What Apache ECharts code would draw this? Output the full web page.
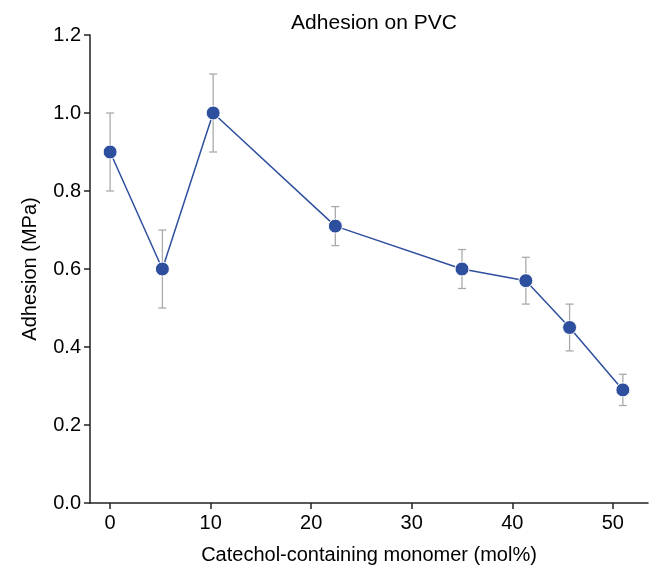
<!DOCTYPE html>
<html>
<head>
<meta charset="utf-8">
<script src="https://cdn.jsdelivr.net/npm/echarts@6/dist/echarts.min.js"></script>
<style>
  html, body { margin: 0; padding: 0; background: #fff; }
  #chart { width: 650px; height: 576px; }
</style>
</head>
<body>
<div id="chart"></div>
<script>
const monomer = [0, 5.2, 10.25, 22.4, 35, 41.35, 45.7, 51];
const adhesion = [0.9, 0.6, 1.0, 0.71, 0.6, 0.57, 0.45, 0.29];
const errLow = [0.8, 0.5, 0.9, 0.66, 0.55, 0.51, 0.39, 0.25];
const errHigh = [1.0, 0.7, 1.1, 0.76, 0.65, 0.63, 0.51, 0.33];
const xTicks = [0, 10, 20, 30, 40, 50];

const font = 'Liberation Sans, Arial, sans-serif';
const blue = '#2E4F9E';

const points = monomer.map((x, i) => [x, adhesion[i]]);
const bars = monomer.map((x, i) => [x, errLow[i], errHigh[i]]);

const chart = echarts.init(document.getElementById('chart'));
chart.setOption({
  animation: false,
  title: {
    text: 'Adhesion on PVC',
    left: 369,
    textAlign: 'center',
    top: 8,
    textStyle: { fontFamily: font, fontSize: 21, fontWeight: 'normal', color: '#000' }
  },
  grid: { left: 90, right: 2, top: 35, bottom: 73 },
  xAxis: {
    type: 'value',
    min: -2,
    max: 53.5,
    name: 'Catechol-containing monomer (mol%)',
    nameLocation: 'middle',
    nameGap: 42,
    nameTextStyle: { fontFamily: font, fontSize: 20, color: '#000' },
    axisLine: { lineStyle: { color: '#222', width: 1.5 } },
    axisTick: { customValues: xTicks, length: 6, lineStyle: { color: '#222', width: 1.5 } },
    axisLabel: { customValues: xTicks, fontFamily: font, fontSize: 20, color: '#000', margin: 10 },
    splitLine: { show: false }
  },
  yAxis: {
    type: 'value',
    min: 0,
    max: 1.2,
    interval: 0.2,
    name: 'Adhesion (MPa)',
    nameLocation: 'middle',
    nameGap: 50,
    nameTextStyle: { fontFamily: font, fontSize: 20, color: '#000' },
    axisLine: { show: true, onZero: false, lineStyle: { color: '#222', width: 1.5 } },
    axisTick: { show: true, length: 6, lineStyle: { color: '#222', width: 1.5 } },
    axisLabel: { fontFamily: font, fontSize: 20, color: '#000', margin: 9, formatter: v => v.toFixed(1) },
    splitLine: { show: false }
  },
  series: [
    {
      type: 'custom',
      data: bars,
      z: 1,
      renderItem: function (params, api) {
        const x = api.value(0);
        const lo = api.coord([x, api.value(1)]);
        const hi = api.coord([x, api.value(2)]);
        const w = 4;
        const style = { stroke: '#aaa', lineWidth: 1.3 };
        return {
          type: 'group',
          children: [
            { type: 'line', shape: { x1: lo[0], y1: lo[1], x2: hi[0], y2: hi[1] }, style },
            { type: 'line', shape: { x1: lo[0] - w, y1: lo[1], x2: lo[0] + w, y2: lo[1] }, style },
            { type: 'line', shape: { x1: hi[0] - w, y1: hi[1], x2: hi[0] + w, y2: hi[1] }, style }
          ]
        };
      }
    },
    {
      type: 'line',
      data: points,
      z: 3,
      symbol: 'circle',
      symbolSize: 14,
      lineStyle: { color: blue, width: 1.5 },
      itemStyle: { color: blue, borderColor: '#fff', borderWidth: 1 }
    }
  ]
});
</script>
</body>
</html>
